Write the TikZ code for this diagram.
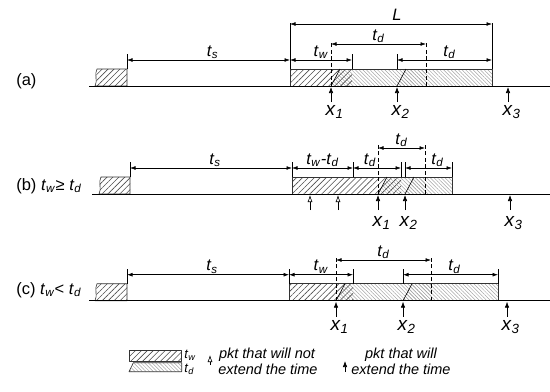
\documentclass[tikz,border=0pt]{standalone}
\usepackage{fontspec}
\setmainfont{Liberation Sans}
\usetikzlibrary{arrows.meta,patterns.meta}
\newcommand{\tsub}[2]{\textit{#1}\textsubscript{\textit{#2}}}

\begin{document}
\begin{tikzpicture}[x=1bp,y=-1bp,>={Latex[length=5.5bp,width=3.8bp]},line join=round,line width=0.6bp,
  dim/.style={<->},
  guide/.style={dash pattern=on 4bp off 2.5bp},
  twfill/.style={pattern={Lines[angle=45,distance=4.2bp,line width=0.6bp]},pattern color=black!70},
  tdfill/.style={pattern={Lines[angle=-45,distance=2.6bp,line width=0.5bp]},pattern color=black!35},
  box/.style={draw=black!80},
  lbl/.style={font=\fontsize{16.5bp}{18bp}\selectfont,anchor=base,inner sep=0pt,yshift=4bp},
  xlbl/.style={font=\fontsize{19bp}{21bp}\selectfont,anchor=base,inner sep=0pt},
  rowlbl/.style={font=\fontsize{16.5bp}{19bp}\selectfont,anchor=base west,inner sep=0pt},
  keylbl/.style={font=\fontsize{13bp}{15bp}\selectfont,anchor=base west,inner sep=0pt},
  keytxt/.style={font=\fontsize{14.5bp}{17bp}\selectfont\itshape,anchor=base,inner sep=0pt},
  pkt/.style={-{Latex[length=6bp,width=4.5bp]}},
  npkt/.style={-{Latex[open,length=7bp,width=5bp]}}]
\useasboundingbox (0,0) rectangle (550,391);
% rows: base, line start, earlier packet, window, arrivals, t_d
\foreach \y/\ls/\bl/\br/\rl/\twe/\xa/\xb/\xc/\td/\dl/\n in {86/89/96/127/290/352/331/397/508/95/29/a,194/92/100/130/292/401/378/405/510/47/32/b,300.7/89/96/127/289/353/336/403/507/95/30/c}{
  \path (\br,{\y-26}) coordinate (\n-br) (\rl,{\y-26}) coordinate (\n-rl)
    (\twe,{\y-26}) coordinate (\n-tw) (\xb,{\y-26}) coordinate (\n-xb)
    ({\xb+\td},{\y-26}) coordinate (\n-rr);
  \fill[tdfill] (\xa,\y) -- ++(9,-17) -- ({\xa+\td},{\y-17}) -- ({\xa+\td},\y) -- cycle;
  \fill[tdfill] (\xb,\y) -- ++(9,-17) -- ({\xb+\td},{\y-17}) -- ({\xb+\td},\y) -- cycle;
  \fill[twfill] (\rl,\y) rectangle (\twe,{\y-17});
  \draw[box] (\rl,{\y-17}) rectangle ({\xb+\td},\y);
  \draw (\xa,\y) -- ++(9,-17) (\xb,\y) -- ++(9,-17);
  \draw[box,twfill] (\br,\y) -- (\br,{\y-17}) -- ({\bl+1},{\y-17}) .. controls ({\bl-2},{\y-12}) and ({\bl+2},{\y-5}) .. ({\bl-1},\y) -- cycle;
  \draw (\ls,\y) -- (550,\y);
  \foreach \t in {\br,\rl,\twe,\xb,{\xb+\td}}
    \draw (\t,{\y-17}) -- (\t,{\y-32});
  \draw[dim] (\n-br) -- node[lbl,xshift=4bp] (\n-ts) {\tsub{t}{s}} (\n-rl);
  \foreach \p [count=\i] in {\xa,\xb,\xc}{
    \draw[pkt] (\p,{\y+16}) -- (\p,{\y+1});
    \node[xlbl] (\n-x\i) at ({\p+3.5},{\y+\dl}) {\tsub{x}{\i}};
  }
}
\node[rowlbl] (a-name) at (16,85) {(a)};
\node[rowlbl] (b-name) at (16,190) {(b) \tsub{t}{w}≥ \tsub{t}{d}};
\node[rowlbl] (c-name) at (16,294) {(c) \tsub{t}{w}< \tsub{t}{d}};
% (a)
\draw (290,69) -- (290,23) (492,69) -- (492,23);
\path (290,24) coordinate (a-L0) (492,24) coordinate (a-L1);
\draw[dim] (a-L0) -- node[lbl,xshift=6bp] (a-L) {\textit{L}} (a-L1);
\draw[dim] (a-rl) -- node[lbl] (a-twl) {\tsub{t}{w}} (a-tw);
\draw[guide] (331,86) -- (331,43) (426,86) -- (426,43);
\path (331,44) coordinate (a-d0) (426,44) coordinate (a-d1);
\draw[dim] (a-d0) -- node[lbl] (a-tdl) {\tsub{t}{d}} (a-d1);
\draw[dim] (a-xb) -- node[lbl,xshift=5bp] (a-td2) {\tsub{t}{d}} (a-rr);
% (b)
\draw (353,177) -- (353,162);
\path (353,168) coordinate (b-m);
\draw[dim] (b-rl) -- node[lbl] (b-dif) {\tsub{t}{w}\textit{-}\tsub{t}{d}} (b-m);
\draw[dim] (b-m) -- node[lbl,xshift=-7bp] (b-td1) {\tsub{t}{d}} (b-tw);
\draw[dim] (b-xb) -- node[lbl,xshift=9bp] (b-td3) {\tsub{t}{d}} (b-rr);
\draw[guide] (378,194) -- (378,143) (425,194) -- (425,143);
\path (378,148) coordinate (b-d0) (425,148) coordinate (b-d1);
\draw[dim] (b-d0) -- node[lbl] (b-td2) {\tsub{t}{d}} (b-d1);
\foreach \p in {310,338}
  \draw[npkt] (\p,210) -- (\p,195);
% (c)
\draw[dim] (c-rl) -- node[lbl] (c-twl) {\tsub{t}{w}} (c-tw);
\draw[guide] (336,300.7) -- (336,256) (431,300.7) -- (431,256);
\path (336,260) coordinate (c-d0) (431,260) coordinate (c-d1);
\draw[dim] (c-d0) -- node[lbl] (c-tdl) {\tsub{t}{d}} (c-d1);
\draw[dim] (c-xb) -- node[lbl,xshift=4bp] (c-td2) {\tsub{t}{d}} (c-rr);
% legend
\draw[box,twfill] (129,350.7) rectangle (181.7,361);
\node[keylbl] (k-tw) at (184,358.5) {\tsub{t}{w}};
\draw[box,tdfill] (129,371.7) -- (133.3,362.7) -- (181.7,362.7) -- (181.7,371.7) -- cycle;
\node[keylbl] (k-td) at (184,372) {\tsub{t}{d}};
\draw[npkt] (210,365) -- (210,355);
\node[keytxt] (k-n1) at (267,358) {pkt that will not};
\node[keytxt] (k-n2) at (268,374) {extend the time};
\draw[pkt] (345,372) -- (345,361);
\node[keytxt] (k-y1) at (401,358) {pkt that will};
\node[keytxt] (k-y2) at (401,374) {extend the time};
\end{tikzpicture}
\end{document}
